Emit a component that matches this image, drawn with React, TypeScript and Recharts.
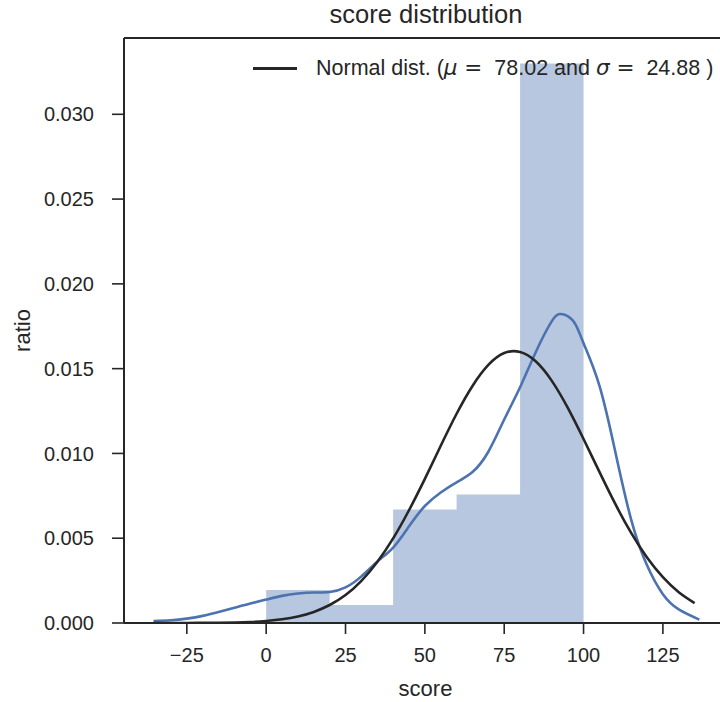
import React from "react";
import { ComposedChart, Area, Line, XAxis, YAxis, ReferenceLine, Label } from "recharts";

// Histogram bins (density)
const BIN_EDGES = [0, 20, 40, 60, 80, 100];
const BIN_DENSITY = [0.00195, 0.00106, 0.00669, 0.00758, 0.033];

// KDE curve
const KDE_X = [-35.5, -30, -25, -20, -15, -10, -5, 0, 5, 10, 15, 20, 25, 30, 35, 40, 45, 50, 55, 60, 65, 70, 75, 80, 85, 90, 92.5, 95, 97.5, 100, 105, 110, 115, 120, 125, 130, 136.5];
const KDE_Y = [0.00012, 0.00016, 0.00026, 0.00042, 0.00065, 0.0009, 0.00115, 0.00138, 0.0016, 0.00174, 0.0018, 0.00183, 0.0021, 0.00275, 0.00362, 0.00445, 0.0057, 0.0069, 0.0077, 0.0083, 0.0089, 0.0101, 0.012, 0.0139, 0.016, 0.0178, 0.01822, 0.0181, 0.0176, 0.0165, 0.0140, 0.0101, 0.0061, 0.0034, 0.0017, 0.0008, 0.0002];

// Fitted normal curve
const NORM_X = [-35.5, -25, -15, -5, 0, 5, 10, 15, 20, 25, 30, 35, 40, 45, 50, 55, 60, 65, 70, 75, 80, 85, 90, 95, 100, 105, 110, 115, 120, 125, 130, 135];
const NORM_Y = [0.0, 0.000003, 0.000015, 0.00006, 0.00012, 0.00022, 0.00038, 0.00065, 0.00106, 0.00165, 0.00249, 0.0036, 0.00499, 0.00665, 0.0085, 0.01045, 0.01234, 0.01398, 0.01522, 0.01592, 0.01598, 0.01542, 0.01428, 0.0127, 0.01085, 0.00891, 0.00702, 0.00531, 0.00386, 0.0027, 0.00181, 0.00117];

const X_TICKS = [-25, 0, 25, 50, 75, 100, 125];
const Y_TICKS = [0, 0.005, 0.01, 0.015, 0.02, 0.025, 0.03];
const X_DOMAIN = [-44.8, 145.2];
const Y_DOMAIN = [0, 0.0345];
const MU = "78.02";
const SIGMA = "24.88";
const TITLE = "score distribution";
const X_LABEL = "score";
const Y_LABEL = "ratio";

const histData = BIN_EDGES.map((x, i) => ({ x, y: BIN_DENSITY[Math.min(i, BIN_DENSITY.length - 1)] }));
const kdeData = KDE_X.map((x, i) => ({ x, y: KDE_Y[i] }));
const normData = NORM_X.map((x, i) => ({ x, y: NORM_Y[i] }));

const FONT = "'Liberation Sans', Arial, Helvetica, sans-serif";
const TEXT = "#262626";
const SPINE = "#262626";

export default function App() {
  return (
    <div style={{ position: "absolute", left: 0, top: 0, width: 720, height: 702, overflow: "hidden", background: "#fff", fontFamily: FONT }}>
      <ComposedChart
        width={740}
        height={702}
        margin={{ top: 38, right: 13, bottom: 0, left: 0 }}
        style={{ fontFamily: FONT }}
      >
        <XAxis
          dataKey="x"
          type="number"
          domain={X_DOMAIN}
          ticks={X_TICKS}
          allowDataOverflow
          height={79}
          tickSize={11}
          tickMargin={14}
          axisLine={{ stroke: SPINE, strokeWidth: 2 }}
          tickLine={{ stroke: SPINE, strokeWidth: 1.6 }}
          tick={{ fill: TEXT, fontSize: 20, fontFamily: FONT }}
          tickFormatter={(v) => (v < 0 ? "\u2212" + Math.abs(v) : String(v))}
        >
          <Label value={X_LABEL} position="insideBottom" offset={6} style={{ fill: TEXT, fontSize: 22, fontFamily: FONT }} />
        </XAxis>
        <YAxis
          dataKey="y"
          type="number"
          domain={Y_DOMAIN}
          ticks={Y_TICKS}
          allowDataOverflow
          width={124}
          tickSize={12}
          tickMargin={18}
          axisLine={{ stroke: SPINE, strokeWidth: 2 }}
          tickLine={{ stroke: SPINE, strokeWidth: 1.6 }}
          tick={{ fill: TEXT, fontSize: 20, fontFamily: FONT }}
          tickFormatter={(v) => Number(v).toFixed(3)}
        >
          <Label
            content={(props: any) => {
              const vb = props.viewBox || {};
              const cy = (vb.y || 0) + (vb.height || 0) / 2;
              return (
                <text x={22} y={cy} transform={`rotate(-90 22 ${cy})`} textAnchor="middle" dominantBaseline="central" fill={TEXT} fontSize={22} fontFamily={FONT}>
                  {Y_LABEL}
                </text>
              );
            }}
          />
        </YAxis>
        <Area
          data={histData}
          dataKey="y"
          type="stepAfter"
          fill="#4c72b0"
          fillOpacity={0.4}
          stroke="none"
          isAnimationActive={false}
          baseValue={0}
        />
        <Line data={kdeData} dataKey="y" type="natural" stroke="#4c72b0" strokeWidth={2.6} dot={false} isAnimationActive={false} />
        <Line data={normData} dataKey="y" type="natural" stroke="#262626" strokeWidth={2.6} dot={false} isAnimationActive={false} />
        <ReferenceLine y={Y_DOMAIN[1]} stroke={SPINE} strokeWidth={2} />
        <ReferenceLine x={X_DOMAIN[1]} stroke={SPINE} strokeWidth={2} />
      </ComposedChart>
      <div style={{ position: "absolute", left: 125, width: 602, top: 0, textAlign: "center", fontSize: 25.5, color: TEXT, fontFamily: FONT }}>{TITLE}</div>
      <div style={{ position: "absolute", left: 253, top: 55, display: "flex", alignItems: "center", color: TEXT, fontSize: 21.5, fontFamily: FONT, whiteSpace: "pre" }}>
        <div style={{ width: 44, height: 0, borderTop: "3px solid #262626", marginRight: 19 }} />
        <span>
          {"Normal dist. ("}
          <span style={{ fontFamily: "'DejaVu Sans'", fontStyle: "italic" }}>{"\u03bc"}</span>
          <span style={{ fontFamily: "'DejaVu Sans'" }}>{" ="}</span>
          {"  " + MU + " and "}
          <span style={{ fontFamily: "'DejaVu Sans'", fontStyle: "italic" }}>{"\u03c3"}</span>
          <span style={{ fontFamily: "'DejaVu Sans'" }}>{" ="}</span>
          {"  " + SIGMA + " )"}
        </span>
      </div>
    </div>
  );
}
